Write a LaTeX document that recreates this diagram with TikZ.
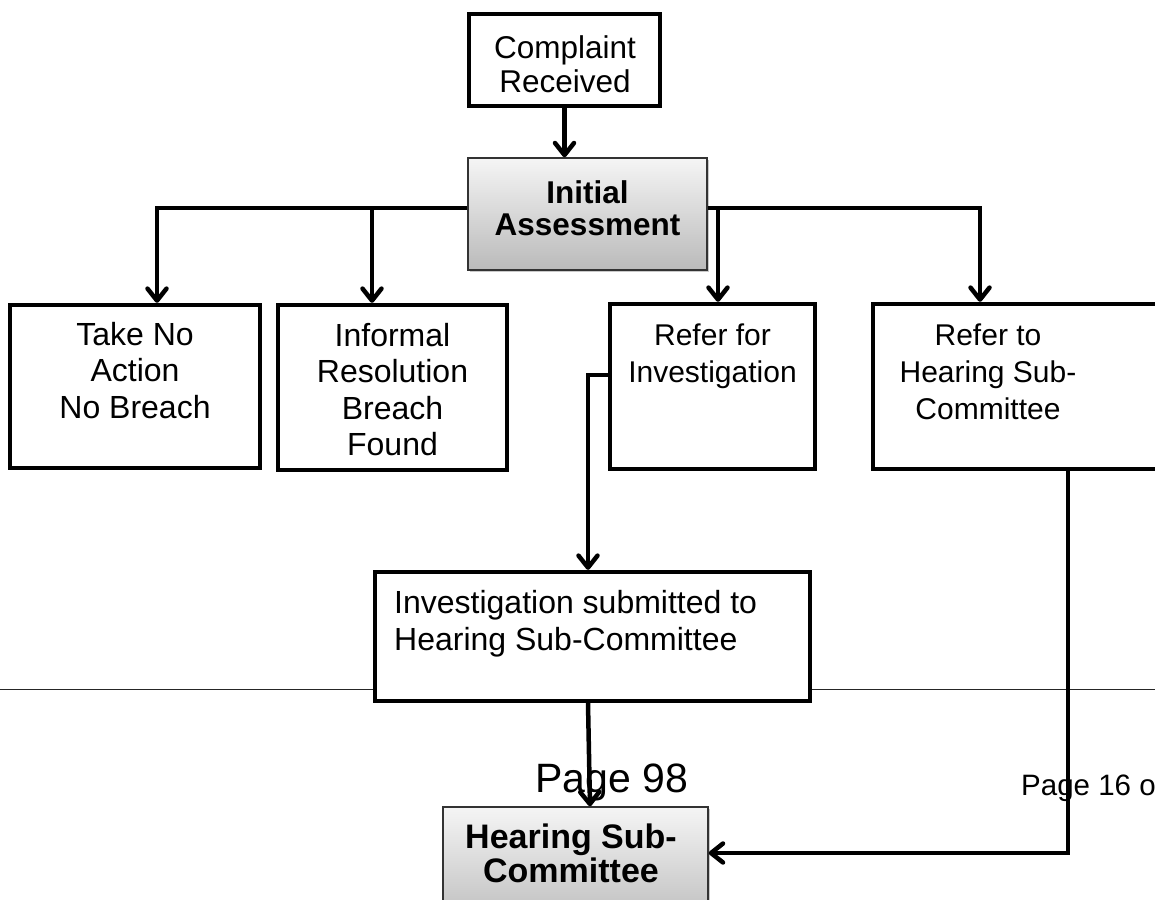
\documentclass[tikz,border=0pt]{standalone}
\usepackage{fontspec}
\setmainfont{Liberation Sans}
\usetikzlibrary{arrows.meta,fit,shadows}
\begin{document}
\begin{tikzpicture}[x=1pt,y=-1pt,
  box/.style={draw=black, line width=4.3pt, fill=white, inner sep=0pt},
  graybox/.style={draw=black!80, line width=1.5pt, top color=black!4, bottom color=black!27, inner sep=0pt,
    drop shadow={shadow xshift=2pt, shadow yshift=-2pt, opacity=0.35, fill=black!60}},
  txt/.style={inner sep=0pt, align=center},
  conn/.style={line width=4.5pt},
  arr/.style={conn, -{Straight Barb[length=12pt,width=19pt,line cap=round,line join=round]}}
]
\useasboundingbox (0,0) rectangle (1155,899);
\clip (0,0) rectangle (1155,899);
\fill[white] (0,0) rectangle (1155,899);

% page footer line and page texts
\coordinate (pl) at (0,689);
\coordinate (pr) at (1155,689);
\draw[line width=0.9pt, black!85] (pl) -- (pr);
\node[inner sep=0pt, anchor=base west, font=\fontsize{41}{44}\selectfont] (p98) at (535,792) {Page 98};
\node[inner sep=0pt, anchor=base west, font=\fontsize{29.5}{32}\selectfont] (p16) at (1021,795) {Page 16 of};

% boxes
\node[box, fit={(469,14) (660,106)}] (cr) {};
\node[graybox, fit={(468,158) (707,270)}] (ia) {};
\node[box, fit={(10,305) (260,468)}] (b1) {};
\node[box, fit={(278,305) (507,470)}] (b2) {};
\node[box, fit={(610,304) (815,469)}] (b3) {};
\node[box, fit={(873,304) (1175,469)}] (b4) {};
\node[box, fit={(375,572) (810,701)}] (inv) {};
\node[graybox, fit={(443,807) (708,930)}] (hs) {};

% texts
\node[txt, anchor=north, font=\fontsize{31.5}{34}\selectfont] (tcr) at (565,35.3) {Complaint\\Received};
\node[txt, anchor=north, font=\fontsize{31.5}{32}\selectfont\bfseries] (tia) at (587.5,180.5) {Initial\\Assessment};
\node[txt, anchor=north, font=\fontsize{32}{36.5}\selectfont] (tb1) at (135,322) {Take No\\Action\\No Breach};
\node[txt, anchor=north, font=\fontsize{32}{36.5}\selectfont] (tb2) at (392.5,323) {Informal\\Resolution\\Breach\\Found};
\node[txt, anchor=north, font=\fontsize{30}{37}\selectfont] (tb3) at (712.5,323.5) {Refer for\\Investigation};
\node[txt, anchor=north, font=\fontsize{30}{37}\selectfont] (tb4) at (988,323.5) {Refer to\\Hearing Sub-\\Committee};
\node[inner sep=0pt, align=left, anchor=north west, font=\fontsize{32}{37}\selectfont] (tinv) at (394,590) {Investigation submitted to\\Hearing Sub-Committee};
\node[txt, anchor=north, font=\fontsize{34}{34}\selectfont\bfseries] (ths) at (571,823.5) {Hearing Sub-\\Committee};

% junction coordinates
\coordinate (d1) at (157,208);
\coordinate (d2) at (372,208);
\coordinate (d3) at (718,208);
\coordinate (d4) at (980,208);
\coordinate (j1) at (588,375);
\coordinate (j2) at (588,703);
\coordinate (j3) at (590,807);
\coordinate (j4) at (1068,853);

% connectors
\draw[arr] (cr.south) -- (cr.south |- ia.north);
\draw[arr] (ia.west |- d1) -| (b1.north -| d1);
\draw[arr] (d2) -- (b2.north -| d2);
\draw[arr] (ia.east |- d4) -| (b4.north -| d4);
\draw[arr] (d3) -- (b3.north -| d3);
\draw[arr] (b3.west |- j1) -- (j1) -- (inv.north -| j1);
\draw[arr] (inv.south -| j2) -- (hs.north -| j3);
\draw[arr] (b4.south -| j4) -- (j4) -- (hs.east |- j4);
\end{tikzpicture}
\end{document}
